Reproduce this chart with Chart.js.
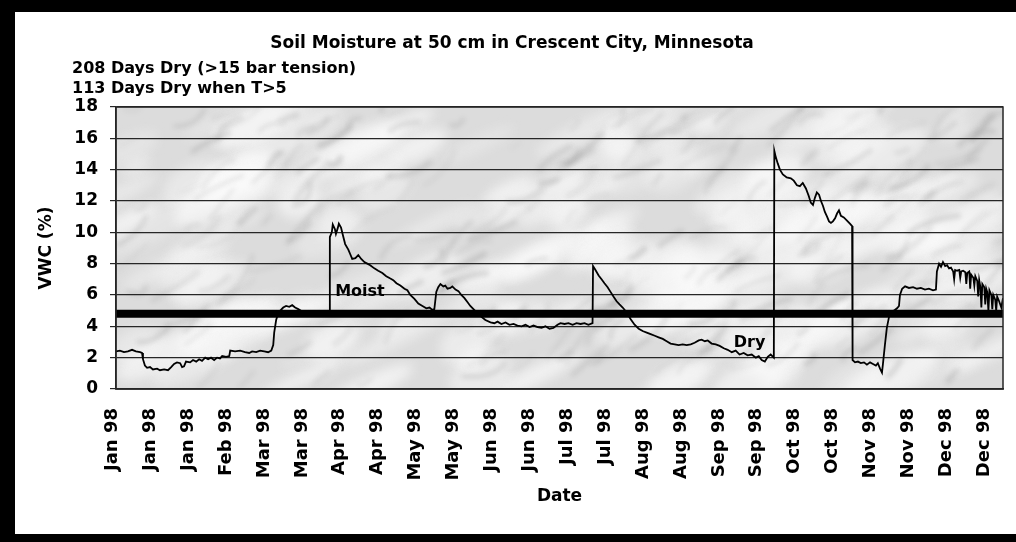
<!DOCTYPE html>
<html>
<head>
<meta charset="utf-8">
<script src="https://cdn.jsdelivr.net/npm/chart.js@4.4.1/dist/chart.umd.min.js"></script>
<style>
  html, body { margin: 0; padding: 0; background: #fff; }
  #frame { width: 1001px; height: 522px; border-left: 15px solid #000; border-top: 12px solid #000; border-bottom: 8px solid #000; }
  canvas { display: block; }
</style>
</head>
<body>
<div id="frame"><canvas id="soil" width="1001" height="522"></canvas></div>
<script>
// Soil moisture readings, day of year 1998 vs VWC (%)
const days = [
  0, 1.6, 3.3, 4.9, 6.6, 8.2, 9.9, 10.7, 11.1, 11.9,
  12.8, 14.0, 15.2, 16.9, 18.1, 19.8, 21.4, 22.7, 23.9, 25.1,
  26.4, 27.2, 28.0, 28.8, 30.5, 31.7, 33.0, 34.2, 35.4, 36.7,
  37.9, 39.1, 40.4, 41.6, 42.8, 43.7, 45.3, 46.6, 47.0, 49.0,
  51.1, 53.1, 54.8, 56.0, 57.7, 59.3, 61.0, 62.6, 63.9, 64.7,
  65.1, 65.9, 66.7, 67.6, 68.8, 70.0, 71.3, 72.5, 73.7, 75.0,
  76.6, 78.3, 79.9, 82.0, 84.0, 86.1, 87.8,
  // spring recharge
  88.0, 88.8, 89.2, 90.1, 90.5, 91.3, 91.7, 92.6, 93.4, 94.3,
  95.6, 96.4, 97.2, 98.5, 99.7, 100.9, 102.2, 103.4, 104.6, 106.3,
  107.9, 109.6, 111.2, 112.9, 114.1, 115.4, 117.0, 118.7, 119.9, 121.1,
  122.8, 124.4, 126.1, 127.7, 129.0, 130.2, 131.0, 131.8, 132.6, 133.5,
  134.7, 135.5, 136.4, 137.6, 138.4, 139.7, 140.9, 142.1, 143.4, 144.6,
  145.8, 147.1, 148.7, 150.4, 152.0, 154.1, 155.7, 157.0, 158.6, 160.3,
  161.9, 163.6, 165.2, 166.9, 168.5, 170.2, 171.8, 173.5, 175.1, 176.7,
  178.4, 180.0, 181.7, 182.9, 184.6, 186.2, 187.9, 189.5, 191.2, 192.8,
  194.4, 196.1,
  // july storm and drydown
  196.3, 197.3, 198.6, 199.8, 201.0, 202.3, 203.5, 204.7, 206.0, 207.2,
  208.5, 210.1, 211.8, 213.4, 215.1, 216.7, 218.4, 220.0, 221.7, 223.3,
  225.0, 226.6, 228.2, 229.9, 231.5, 233.2, 234.8, 236.5, 238.1, 239.8,
  241.0, 242.3, 243.5, 245.1, 246.8, 248.4, 250.1, 251.7, 253.4, 255.0,
  256.6, 258.3, 259.9, 261.6, 263.3, 264.5, 265.7, 267.0, 268.2, 269.4,
  270.7,
  // october
  270.9, 271.5, 272.3, 273.2, 274.4, 276.0, 277.7, 278.9, 280.2, 281.4,
  282.6, 283.9, 285.1, 285.9, 286.8, 287.6, 288.4, 289.3, 290.1, 290.9,
  291.7, 292.6, 293.4, 294.2, 295.0, 295.9, 296.7, 297.5, 298.3, 299.5,
  300.8, 302.0, 302.9,
  // november - december
  303.1, 304.1, 305.3, 306.5, 307.8, 309.0, 310.3, 311.5, 312.7, 313.5,
  314.4, 315.2, 315.6, 316.4, 317.2, 318.1, 318.9, 320.1, 321.4, 322.2,
  322.6, 323.5, 324.7, 326.3, 328.0, 329.6, 331.2, 332.9, 334.5, 336.2,
  337.4, 337.8, 338.7, 339.5, 340.3, 341.2, 342.0, 342.8, 343.6, 344.5,
  344.9, 345.3, 346.1, 347.0, 347.4, 347.8, 348.6, 349.5, 349.9, 350.3,
  351.1, 351.5, 351.9, 352.8, 353.2, 353.6, 354.4, 354.8, 355.2, 355.7,
  356.1, 356.5, 357.3, 357.7, 358.1, 358.5, 359.0, 359.4, 360.2, 360.6,
  361.0, 361.8, 362.2, 362.6, 363.4, 364.3, 365.0
];

const vwc = [
  2.4, 2.45, 2.35, 2.4, 2.5, 2.4, 2.35, 2.3, 1.9, 1.5,
  1.35, 1.4, 1.25, 1.3, 1.2, 1.25, 1.2, 1.4, 1.6, 1.7,
  1.65, 1.4, 1.45, 1.75, 1.7, 1.85, 1.75, 1.9, 1.8, 2.0,
  1.9, 2.0, 1.85, 2.0, 1.95, 2.1, 2.05, 2.1, 2.45, 2.4,
  2.45, 2.35, 2.3, 2.4, 2.35, 2.45, 2.4, 2.35, 2.45, 2.8,
  3.6, 4.4, 4.8, 5.0, 5.2, 5.3, 5.25, 5.35, 5.2, 5.1,
  4.95, 4.85, 4.8, 4.75, 4.7, 4.75, 4.8,
  // spring recharge
  9.7, 10.0, 10.5, 10.2, 9.9, 10.3, 10.55, 10.3, 9.8, 9.25,
  8.9, 8.6, 8.3, 8.35, 8.55, 8.3, 8.1, 8.0, 7.9, 7.7,
  7.55, 7.4, 7.2, 7.05, 6.95, 6.75, 6.6, 6.4, 6.3, 6.0,
  5.75, 5.45, 5.3, 5.15, 5.2, 5.05, 5.1, 6.2, 6.5, 6.7,
  6.55, 6.6, 6.4, 6.45, 6.55, 6.35, 6.25, 6.0, 5.8, 5.55,
  5.3, 5.1, 4.85, 4.6, 4.4, 4.25, 4.2, 4.3, 4.15, 4.25,
  4.1, 4.15, 4.05, 4.0, 4.1, 3.95, 4.05, 3.95, 3.9, 4.0,
  3.85, 3.9, 4.1, 4.2, 4.15, 4.2, 4.1, 4.2, 4.15, 4.2,
  4.1, 4.2,
  // july storm and drydown
  7.85, 7.6, 7.25, 7.0, 6.75, 6.5, 6.2, 5.9, 5.6, 5.4,
  5.2, 4.9, 4.45, 4.1, 3.85, 3.7, 3.6, 3.5, 3.4, 3.3,
  3.2, 3.05, 2.9, 2.85, 2.8, 2.85, 2.8, 2.85, 2.95, 3.1,
  3.15, 3.05, 3.1, 2.9, 2.85, 2.75, 2.6, 2.5, 2.35, 2.45,
  2.2, 2.3, 2.15, 2.2, 2.0, 2.1, 1.85, 1.75, 2.05, 2.2,
  2.0,
  // october
  15.2, 14.8, 14.4, 14.0, 13.7, 13.5, 13.45, 13.3, 13.0, 12.95,
  13.15, 12.8, 12.3, 11.9, 11.75, 12.2, 12.55, 12.4, 12.0, 11.7,
  11.3, 11.0, 10.7, 10.6, 10.7, 10.9, 11.2, 11.4, 11.05, 10.95,
  10.75, 10.55, 10.4,
  // november - december
  1.85, 1.7, 1.75, 1.65, 1.7, 1.55, 1.7, 1.6, 1.5, 1.65,
  1.3, 1.05, 1.6, 2.8, 3.9, 4.6, 4.9, 5.0, 5.15, 5.3,
  6.0, 6.4, 6.55, 6.45, 6.5, 6.4, 6.45, 6.35, 6.4, 6.3,
  6.35, 7.5, 8.0, 7.8, 8.1, 7.85, 7.9, 7.7, 7.75, 7.5,
  7.0, 7.6, 7.55, 7.6, 7.1, 7.5, 7.55, 7.45, 6.7, 7.4,
  7.5, 6.4, 7.3, 7.1, 6.6, 7.2, 6.9, 5.9, 6.95, 6.5,
  5.2, 6.7, 6.5, 5.4, 6.4, 6.2, 5.0, 6.3, 6.0, 5.1,
  6.0, 5.7, 5.0, 5.9, 5.6, 5.2, 5.8
];

// dry / moist threshold
const thresholdDays = [0, 365];
const thresholdVwc = [4.8, 4.8];

const tickLabels = ['Jan 98', 'Jan 98', 'Jan 98', 'Feb 98', 'Mar 98', 'Mar 98', 'Apr 98', 'Apr 98',
  'May 98', 'May 98', 'Jun 98', 'Jun 98', 'Jul 98', 'Jul 98', 'Aug 98', 'Aug 98',
  'Sep 98', 'Sep 98', 'Oct 98', 'Oct 98', 'Nov 98', 'Nov 98', 'Dec 98', 'Dec 98'];
const tickStart = -1.5;
const tickStep = 15.6;

const chartTitle = 'Soil Moisture at 50 cm in Crescent City, Minnesota';
const subtitleLines = ['208 Days Dry (>15 bar tension)', '113 Days Dry when T>5'];
const noteLabels = ['Moist', 'Dry'];
const noteDays = [90.2, 254.2];
const noteVwc = [5.95, 2.7];

const FONT = '"DejaVu Sans", sans-serif';
const ink = '#000';
const gridInk = '#262626';

// marble texture for the plot area
let marbleCache = null;
function makeMarble(w, h) {
  const c = document.createElement('canvas');
  c.width = w; c.height = h;
  const g = c.getContext('2d');
  g.fillStyle = '#dcdcdc';
  g.fillRect(0, 0, w, h);
  let seed = 17;
  const rnd = () => (seed = (seed * 16807) % 2147483647) / 2147483647;
  g.filter = 'blur(6px)';
  for (let i = 0; i < 160; i++) {
    g.fillStyle = 'rgba(250,250,250,' + (0.3 + rnd() * 0.4).toFixed(2) + ')';
    g.beginPath();
    g.ellipse(rnd() * w, rnd() * h, 15 + rnd() * 45, 6 + rnd() * 16, -0.45, 0, Math.PI * 2);
    g.fill();
  }
  g.filter = 'blur(2.5px)';
  for (let i = 0; i < 260; i++) {
    const x0 = rnd() * w, y0 = rnd() * h;
    const len = 12 + rnd() * 45;
    const a = -0.3 - rnd() * 0.7;
    g.strokeStyle = 'rgba(100,100,100,' + (0.05 + rnd() * 0.18).toFixed(2) + ')';
    g.lineWidth = 1.5 + rnd() * 4;
    g.beginPath();
    g.moveTo(x0, y0);
    g.quadraticCurveTo(x0 + Math.cos(a) * len / 2 + (rnd() - 0.5) * 22, y0 + Math.sin(a) * len / 2 + (rnd() - 0.5) * 22,
      x0 + Math.cos(a) * len, y0 + Math.sin(a) * len);
    g.stroke();
  }
  return c;
}

const plotBackground = {
  id: 'plotBackground',
  beforeDraw(chart) {
    const a = chart.chartArea;
    if (!marbleCache) marbleCache = makeMarble(Math.round(a.right - a.left), Math.round(a.bottom - a.top));
    chart.ctx.drawImage(marbleCache, a.left, a.top, a.right - a.left, a.bottom - a.top);
  },
  afterDraw(chart) {
    const a = chart.chartArea;
    const ctx = chart.ctx;
    ctx.save();
    ctx.strokeStyle = gridInk;
    ctx.lineWidth = 1.5;
    ctx.strokeRect(a.left, a.top, a.right - a.left, a.bottom - a.top);
    ctx.restore();
  }
};

const textLayer = {
  id: 'textLayer',
  afterDraw(chart) {
    const ctx = chart.ctx;
    const xs = chart.scales.x, ys = chart.scales.y;
    ctx.save();
    ctx.fillStyle = ink;
    ctx.textBaseline = 'alphabetic';
    ctx.font = 'bold 17px ' + FONT;
    ctx.textAlign = 'center';
    ctx.fillText(chartTitle, 497, 36);
    ctx.font = 'bold 16px ' + FONT;
    ctx.textAlign = 'left';
    subtitleLines.forEach((t, i) => ctx.fillText(t, 57, 61 + i * 20));
    noteLabels.forEach((t, i) => {
      ctx.fillText(t, xs.getPixelForValue(noteDays[i]), ys.getPixelForValue(noteVwc[i]));
    });
    ctx.restore();
  }
};

new Chart(document.getElementById('soil'), {
  type: 'line',
  data: {
    datasets: [
      {
        label: 'VWC',
        data: days.map((d, i) => ({ x: d, y: vwc[i] })),
        borderColor: ink,
        borderWidth: 1.8,
        pointRadius: 0,
        tension: 0,
        fill: false
      },
      {
        label: 'Threshold',
        data: thresholdDays.map((d, i) => ({ x: d, y: thresholdVwc[i] })),
        borderColor: ink,
        borderWidth: 8,
        pointRadius: 0,
        fill: false
      }
    ]
  },
  options: {
    responsive: false,
    animation: false,
    layout: { padding: { left: 0, right: 13, top: 95, bottom: 0 } },
    plugins: {
      legend: { display: false },
      tooltip: { enabled: false },
      title: { display: false }
    },
    scales: {
      x: {
        type: 'linear',
        min: 0,
        max: 365,
        afterBuildTicks(axis) {
          axis.ticks = tickLabels.map((l, i) => ({ value: tickStart + i * tickStep }));
        },
        afterFit(scale) {
          scale.height = 145;
          scale.paddingLeft = 0;
          scale.paddingRight = 0;
        },
        grid: { display: false },
        border: { display: true, color: gridInk, width: 1.5 },
        ticks: {
          autoSkip: false,
          maxRotation: 90,
          minRotation: 90,
          padding: 11,
          color: ink,
          font: { family: FONT, size: 18, weight: 'bold' },
          callback: (v, i) => tickLabels[i]
        },
        title: {
          display: true,
          text: 'Date',
          color: ink,
          font: { family: FONT, size: 17, weight: 'bold' },
          padding: { top: 0, bottom: 27 }
        }
      },
      y: {
        min: 0,
        max: 18,
        afterFit(scale) { scale.width = 101; },
        grid: { color: gridInk, lineWidth: 1.2, tickLength: 6, drawTicks: true },
        border: { display: true, color: gridInk, width: 1.5 },
        ticks: {
          stepSize: 2,
          padding: 12,
          color: ink,
          font: { family: FONT, size: 17, weight: 'bold' }
        },
        title: {
          display: true,
          text: 'VWC (%)',
          color: ink,
          font: { family: FONT, size: 17, weight: 'bold' },
          padding: { top: 21, bottom: 0 }
        }
      }
    }
  },
  plugins: [plotBackground, textLayer]
});
</script>
</body>
</html>
